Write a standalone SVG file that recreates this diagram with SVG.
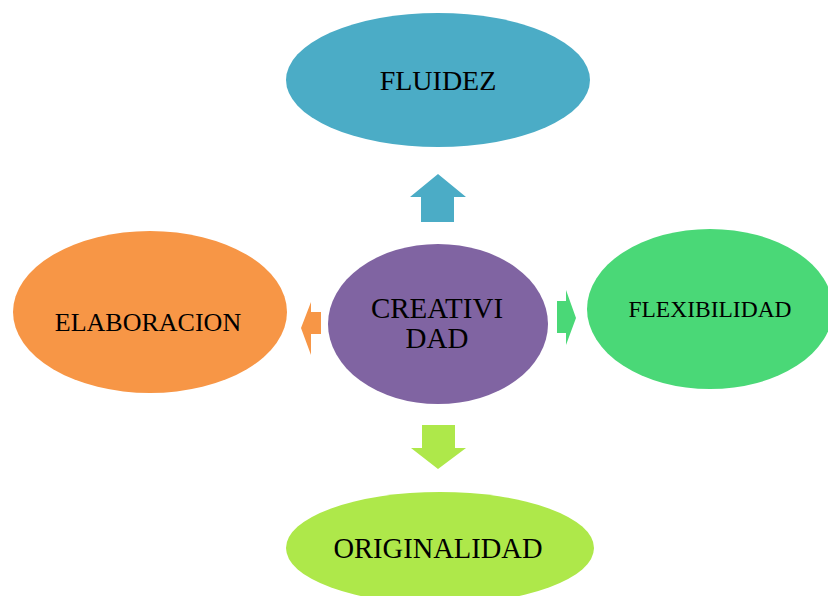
<svg xmlns="http://www.w3.org/2000/svg" width="828" height="596" viewBox="0 0 828 596">
<style>
text{font-family:"Liberation Serif","Times New Roman",serif;fill:#000;text-anchor:middle}
</style>
<rect width="828" height="596" fill="#fff"/>
<g id="connectors">
<polygon fill="#4BACC6" points="438,174 466,197 454,197 454,222 421,222 421,197 410,197"/>
<polygon fill="#AEE84A" points="422,425 455,425 455,448 466,448 438,469 411,448 422,448"/>
<polygon fill="#F79646" points="321,312 321,334 311,334 311,355 301,328 311,302 311,312"/>
<polygon fill="#4AD877" points="557,301 566,301 566,290 576,318 566,345 566,333 557,333"/>
</g>
<g id="fluidez">
<ellipse cx="438" cy="80" rx="152" ry="67" fill="#4BACC6"/>
<text x="438" y="90" font-size="28">FLUIDEZ</text>
</g>
<g id="creatividad">
<ellipse cx="438" cy="324" rx="110" ry="80" fill="#8064A2"/>
<text x="437" y="318" font-size="29">CREATIVI</text>
<text x="437" y="348" font-size="29">DAD</text>
</g>
<g id="flexibilidad">
<ellipse cx="710" cy="309" rx="123" ry="80" fill="#4AD877"/>
<text x="710" y="317" font-size="23.5">FLEXIBILIDAD</text>
</g>
<g id="elaboracion">
<ellipse cx="150" cy="312" rx="137" ry="81" fill="#F79646"/>
<text x="148" y="331" font-size="26">ELABORACION</text>
</g>
<g id="originalidad">
<ellipse cx="440" cy="548" rx="154" ry="56" fill="#AEE84A"/>
<text x="438" y="558" font-size="28.5">ORIGINALIDAD</text>
</g>
</svg>
